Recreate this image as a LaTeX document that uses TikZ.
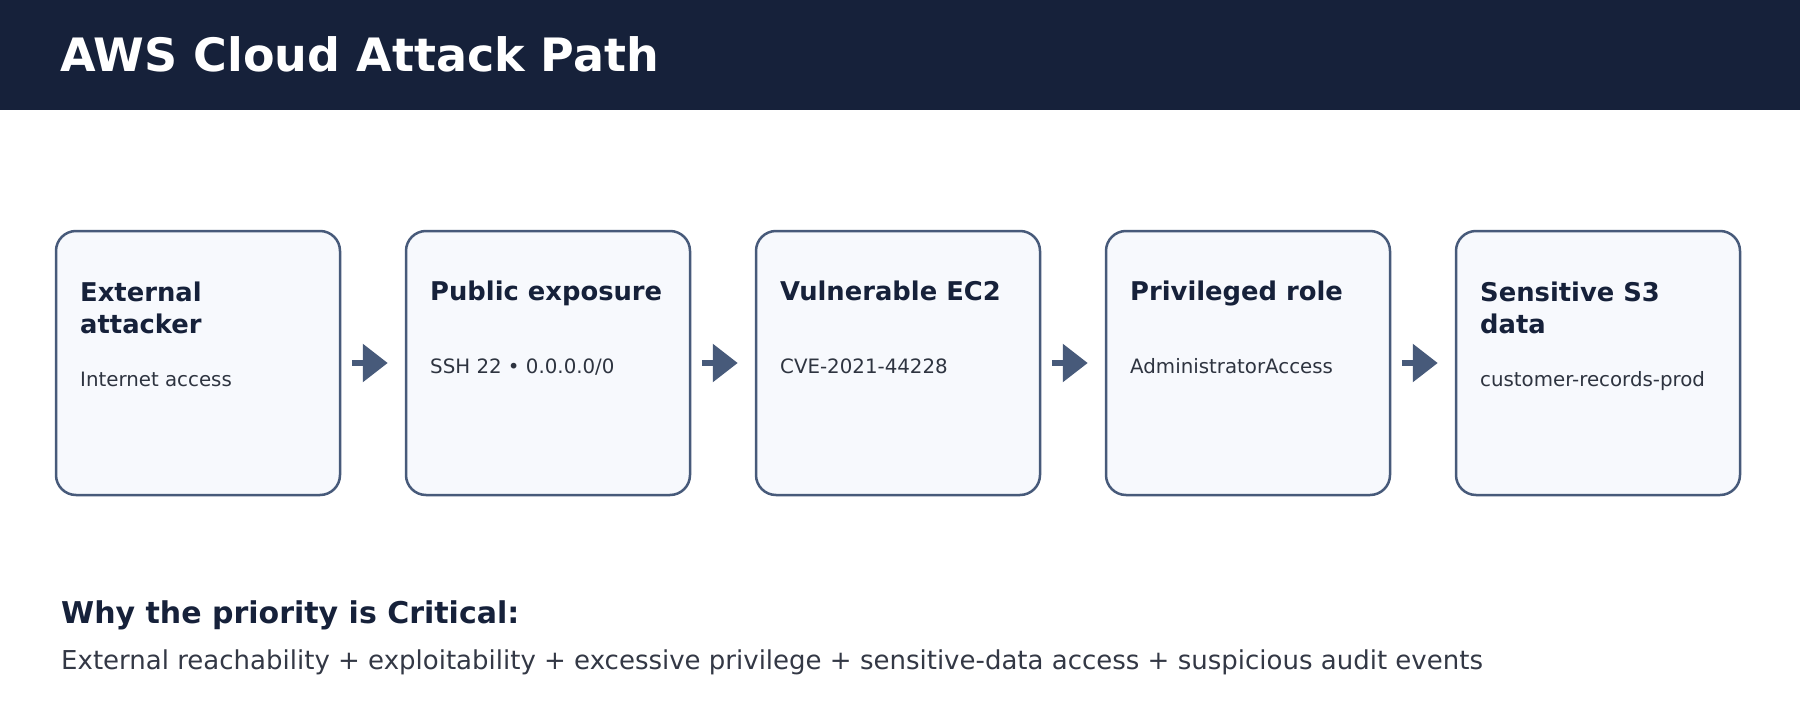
\documentclass[tikz,border=0pt]{standalone}
\usepackage{fontspec}
\setmainfont{DejaVu Sans}
\usetikzlibrary{arrows.meta}
\definecolor{navy}{HTML}{16213A}
\definecolor{slate}{HTML}{475A7A}
\definecolor{boxfill}{HTML}{F7F9FD}
\definecolor{subgray}{HTML}{2E3440}
\definecolor{bodygray}{HTML}{333845}
\tikzset{
  stepbox/.style={draw=slate, fill=boxfill, line width=2.5pt, rounded corners=20pt,
    minimum width=284pt, minimum height=264pt, inner sep=0pt},
  boxtitle/.style={anchor=base west, inner sep=0pt, text=navy,
    font=\bfseries\fontsize{25.8}{32.5}\selectfont, align=left},
  boxsub/.style={anchor=base west, inner sep=0pt, text=subgray,
    font=\fontsize{19.8}{24}\selectfont},
  flow/.style={draw=slate, line width=6pt, -{Triangle[length=25pt,width=37pt]}},
}
\begin{document}
\begin{tikzpicture}[x=1pt,y=-1pt]
\path[use as bounding box, fill=white] (0,0) rectangle (1800,720);
\fill[navy] (0,0) rectangle (1800,110);
\node[anchor=base west, inner sep=0pt, text=white,
  font=\bfseries\fontsize{46}{56}\selectfont] (title) at (60,71) {AWS Cloud Attack Path};

\node[stepbox] (b1) at (198,363) {};
\node[stepbox] (b2) at (548,363) {};
\node[stepbox] (b3) at (898,363) {};
\node[stepbox] (b4) at (1248,363) {};
\node[stepbox] (b5) at (1598,363) {};

\node[boxtitle] (t1a) at (80,301) {External};
\node[boxtitle] (t1b) at (80,333) {attacker};
\node[boxsub] (s1) at (80,386) {Internet access};

\node[boxtitle] (t2) at (430,300) {Public exposure};
\node[boxsub] (s2) at (430,373) {SSH 22 • 0.0.0.0/0};

\node[boxtitle] (t3) at (780,300) {Vulnerable EC2};
\node[boxsub] (s3) at (780,373) {CVE-2021-44228};

\node[boxtitle] (t4) at (1130,300) {Privileged role};
\node[boxsub] (s4) at (1130,373) {AdministratorAccess};

\node[boxtitle] (t5a) at (1480,301) {Sensitive S3};
\node[boxtitle] (t5b) at (1480,333) {data};
\node[boxsub] (s5) at (1480,386) {customer-records-prod};

\draw[flow] ([xshift=11pt]b1.east) -- ([xshift=-17pt]b2.west);
\draw[flow] ([xshift=11pt]b2.east) -- ([xshift=-17pt]b3.west);
\draw[flow] ([xshift=11pt]b3.east) -- ([xshift=-17pt]b4.west);
\draw[flow] ([xshift=11pt]b4.east) -- ([xshift=-17pt]b5.west);

\node[anchor=base west, inner sep=0pt, text=navy,
  font=\bfseries\fontsize{30}{36}\selectfont] (why) at (61,623) {Why the priority is Critical:};
\node[anchor=base west, inner sep=0pt, text=bodygray,
  font=\fontsize{26}{32}\selectfont] (reason) at (61,669)
  {External reachability + exploitability + excessive privilege + sensitive-data access + suspicious audit events};
\end{tikzpicture}
\end{document}
